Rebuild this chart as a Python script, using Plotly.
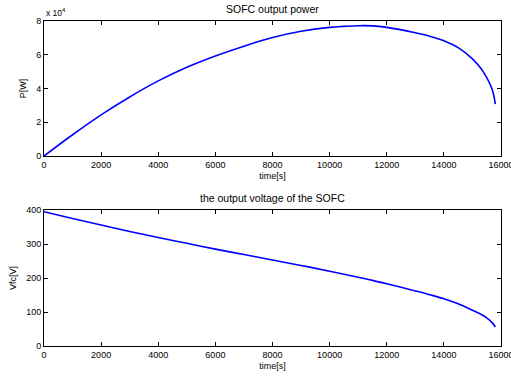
import plotly.graph_objects as go

time_s = [0, 1000, 2000, 3000, 4000, 5000, 6000, 7000, 8000, 9000, 10000, 10500,
          11000, 11500, 12000, 13000, 13500, 14000, 14500, 15000, 15300, 15500, 15700, 15800]
power_w = [0, 12600, 24400, 35000, 44500, 52600, 59300, 65100, 70200, 73900, 76200, 76800,
           77200, 77100, 76200, 73000, 71000, 68300, 64200, 57600, 51800, 46400, 39000, 30800]
voltage_v = [395, 375, 356, 337, 319, 302, 285, 269, 253, 237, 220, 211,
             202, 193, 183, 162, 151, 139, 124, 105, 93, 83, 68, 56]

x_ticks = [0, 2000, 4000, 6000, 8000, 10000, 12000, 14000, 16000]
x_ticktext = ["0", "2000", "4000", "6000", "8000", "10000", "12000", "14000", "16000"]
p_ticks = [0, 20000, 40000, 60000, 80000]
p_ticktext = ["0", "2", "4", "6", "8"]
v_ticks = [0, 100, 200, 300, 400]

W, H = 511, 377
FONT = "Liberation Sans, Arial, sans-serif"
BLUE = "#0000ff"

fig = go.Figure()
fig.add_trace(go.Scatter(x=time_s, y=power_w, mode="lines",
                         line=dict(color=BLUE, width=1.6, shape="spline", smoothing=1.0),
                         xaxis="x", yaxis="y", showlegend=False))
fig.add_trace(go.Scatter(x=time_s, y=voltage_v, mode="lines",
                         line=dict(color=BLUE, width=1.6, shape="spline", smoothing=1.0),
                         xaxis="x2", yaxis="y2", showlegend=False))

xd = [44 / W, 501 / W]
ax_common = dict(showgrid=False, zeroline=False, showline=True, linecolor="black", linewidth=1,
                 mirror="ticks", ticks="inside", ticklen=4, tickcolor="black", tickwidth=1,
                 automargin=False, ticklabeloverflow="allow",
                 tickfont=dict(size=9, color="black", family=FONT))

fig.update_layout(
    width=W, height=H,
    margin=dict(l=0, r=0, t=0, b=0),
    paper_bgcolor="white", plot_bgcolor="white",
    font=dict(family=FONT, color="black", size=9),
    xaxis=dict(domain=xd, anchor="y", range=[0, 16000], tickvals=x_ticks, ticktext=x_ticktext,
               title=dict(text="time[s]", font=dict(size=9), standoff=3), **ax_common),
    yaxis=dict(domain=[1 - 156 / H, 1 - 21 / H], anchor="x", range=[0, 80000], tickvals=p_ticks,
               ticktext=p_ticktext, title=dict(text="P[W]", font=dict(size=9), standoff=8), **ax_common),
    xaxis2=dict(domain=xd, anchor="y2", range=[0, 16000], tickvals=x_ticks, ticktext=x_ticktext,
                title=dict(text="time[s]", font=dict(size=9), standoff=3), **ax_common),
    yaxis2=dict(domain=[1 - 346 / H, 1 - 210 / H], anchor="x2", range=[0, 400], tickvals=v_ticks,
                title=dict(text="Vfc[V]", font=dict(size=9), standoff=8), **ax_common),
    annotations=[
        dict(text="SOFC output power", x=272 / W, y=1 - 9 / H, xref="paper", yref="paper",
             showarrow=False, font=dict(size=10.5), xanchor="center", yanchor="middle"),
        dict(text="the output voltage of the SOFC", x=272 / W, y=1 - 198 / H, xref="paper", yref="paper",
             showarrow=False, font=dict(size=10.5), xanchor="center", yanchor="middle"),
        dict(text="x 10<sup>4</sup>", x=44 / W, y=1 - 13 / H, xref="paper", yref="paper",
             showarrow=False, font=dict(size=8.5), xanchor="left", yanchor="middle"),
    ],
)

fig.write_html("out.html", config={"displayModeBar": False},
               post_script="document.body.style.margin='0';")
